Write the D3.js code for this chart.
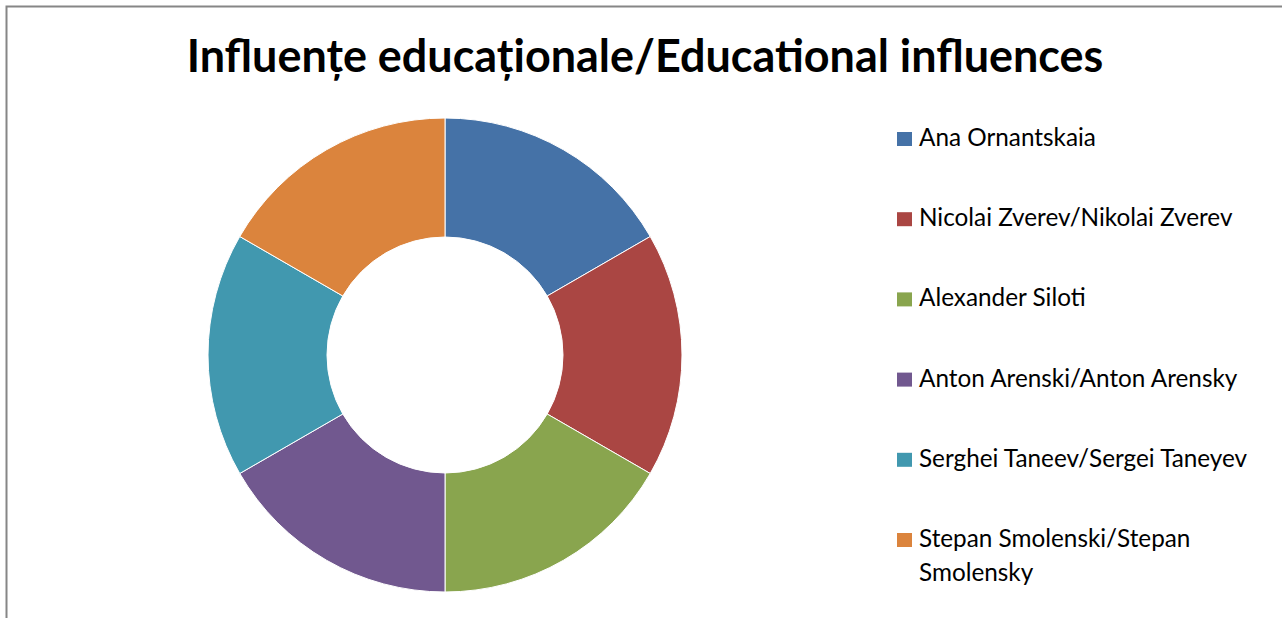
<!DOCTYPE html>
<html><head><meta charset="utf-8">
<script src="https://cdn.jsdelivr.net/npm/d3@7"></script>
<style>body{margin:0;background:#fff;overflow:hidden}</style>
</head><body>
<svg id="c" width="1282" height="618"></svg>
<script>
const title = "Influențe educaționale/Educational influences";
const categories = ["Ana Ornantskaia","Nicolai Zverev/Nikolai Zverev","Alexander Siloti","Anton Arenski/Anton Arensky","Serghei Taneev/Sergei Taneyev","Stepan Smolenski/Stepan Smolensky"];
const legendLines = [["Ana Ornantskaia"],["Nicolai Zverev/Nikolai Zverev"],["Alexander Siloti"],["Anton Arenski/Anton Arensky"],["Serghei Taneev/Sergei Taneyev"],["Stepan Smolenski/Stepan","Smolensky"]];
const values = [1,1,1,1,1,1];
const colors = ["#4572A7","#AA4643","#89A54E","#71588F","#4198AF","#DB843D"];

const svg = d3.select("#c");
const font = "Lato, 'Open Sans', sans-serif";
svg.append("rect").attr("x",6.5).attr("y",6.5).attr("width",1300).attr("height",700)
  .attr("fill","#fff").attr("stroke","#868686").attr("stroke-width",2);

// title
const t = svg.append("text").attr("x",645).attr("y",72).attr("text-anchor","middle")
  .attr("font-family",font).attr("font-weight","bold").attr("font-size",40).attr("fill","#000").text(title);
const tw = t.node().getComputedTextLength();
t.attr("font-size", 40*917/tw);

const color = d3.scaleOrdinal().domain(categories).range(colors);
const pie = d3.pie().sort(null).value(d=>d.v);
const arc = d3.arc().innerRadius(118).outerRadius(237);
const g = svg.append("g").attr("transform","translate(445,355)");
g.selectAll("path").data(pie(categories.map((c,i)=>({c,v:values[i]})))).join("path")
  .attr("d",arc).attr("fill",d=>color(d.data.c)).attr("stroke","#fff").attr("stroke-width",1);

// legend
const y = d3.scalePoint().domain(categories).range([139,540]);
const lg = svg.append("g");
categories.forEach((c,i)=>{
  lg.append("rect").attr("x",897).attr("y",y(c)-7).attr("width",15).attr("height",14).attr("fill",color(c));
  const tx = lg.append("text").attr("x",919).attr("y",y(c)+7).attr("font-family",font).attr("font-size",20).attr("fill","#000");
  legendLines[i].forEach((l,j)=>tx.append("tspan").attr("x",919).attr("dy",j?34:0).text(l));
});
// fit legend font size to reference width of first item (177px)
const first = lg.select("text").node().getComputedTextLength();
lg.selectAll("text").attr("font-size",20*177/first);
</script>
</body></html>
